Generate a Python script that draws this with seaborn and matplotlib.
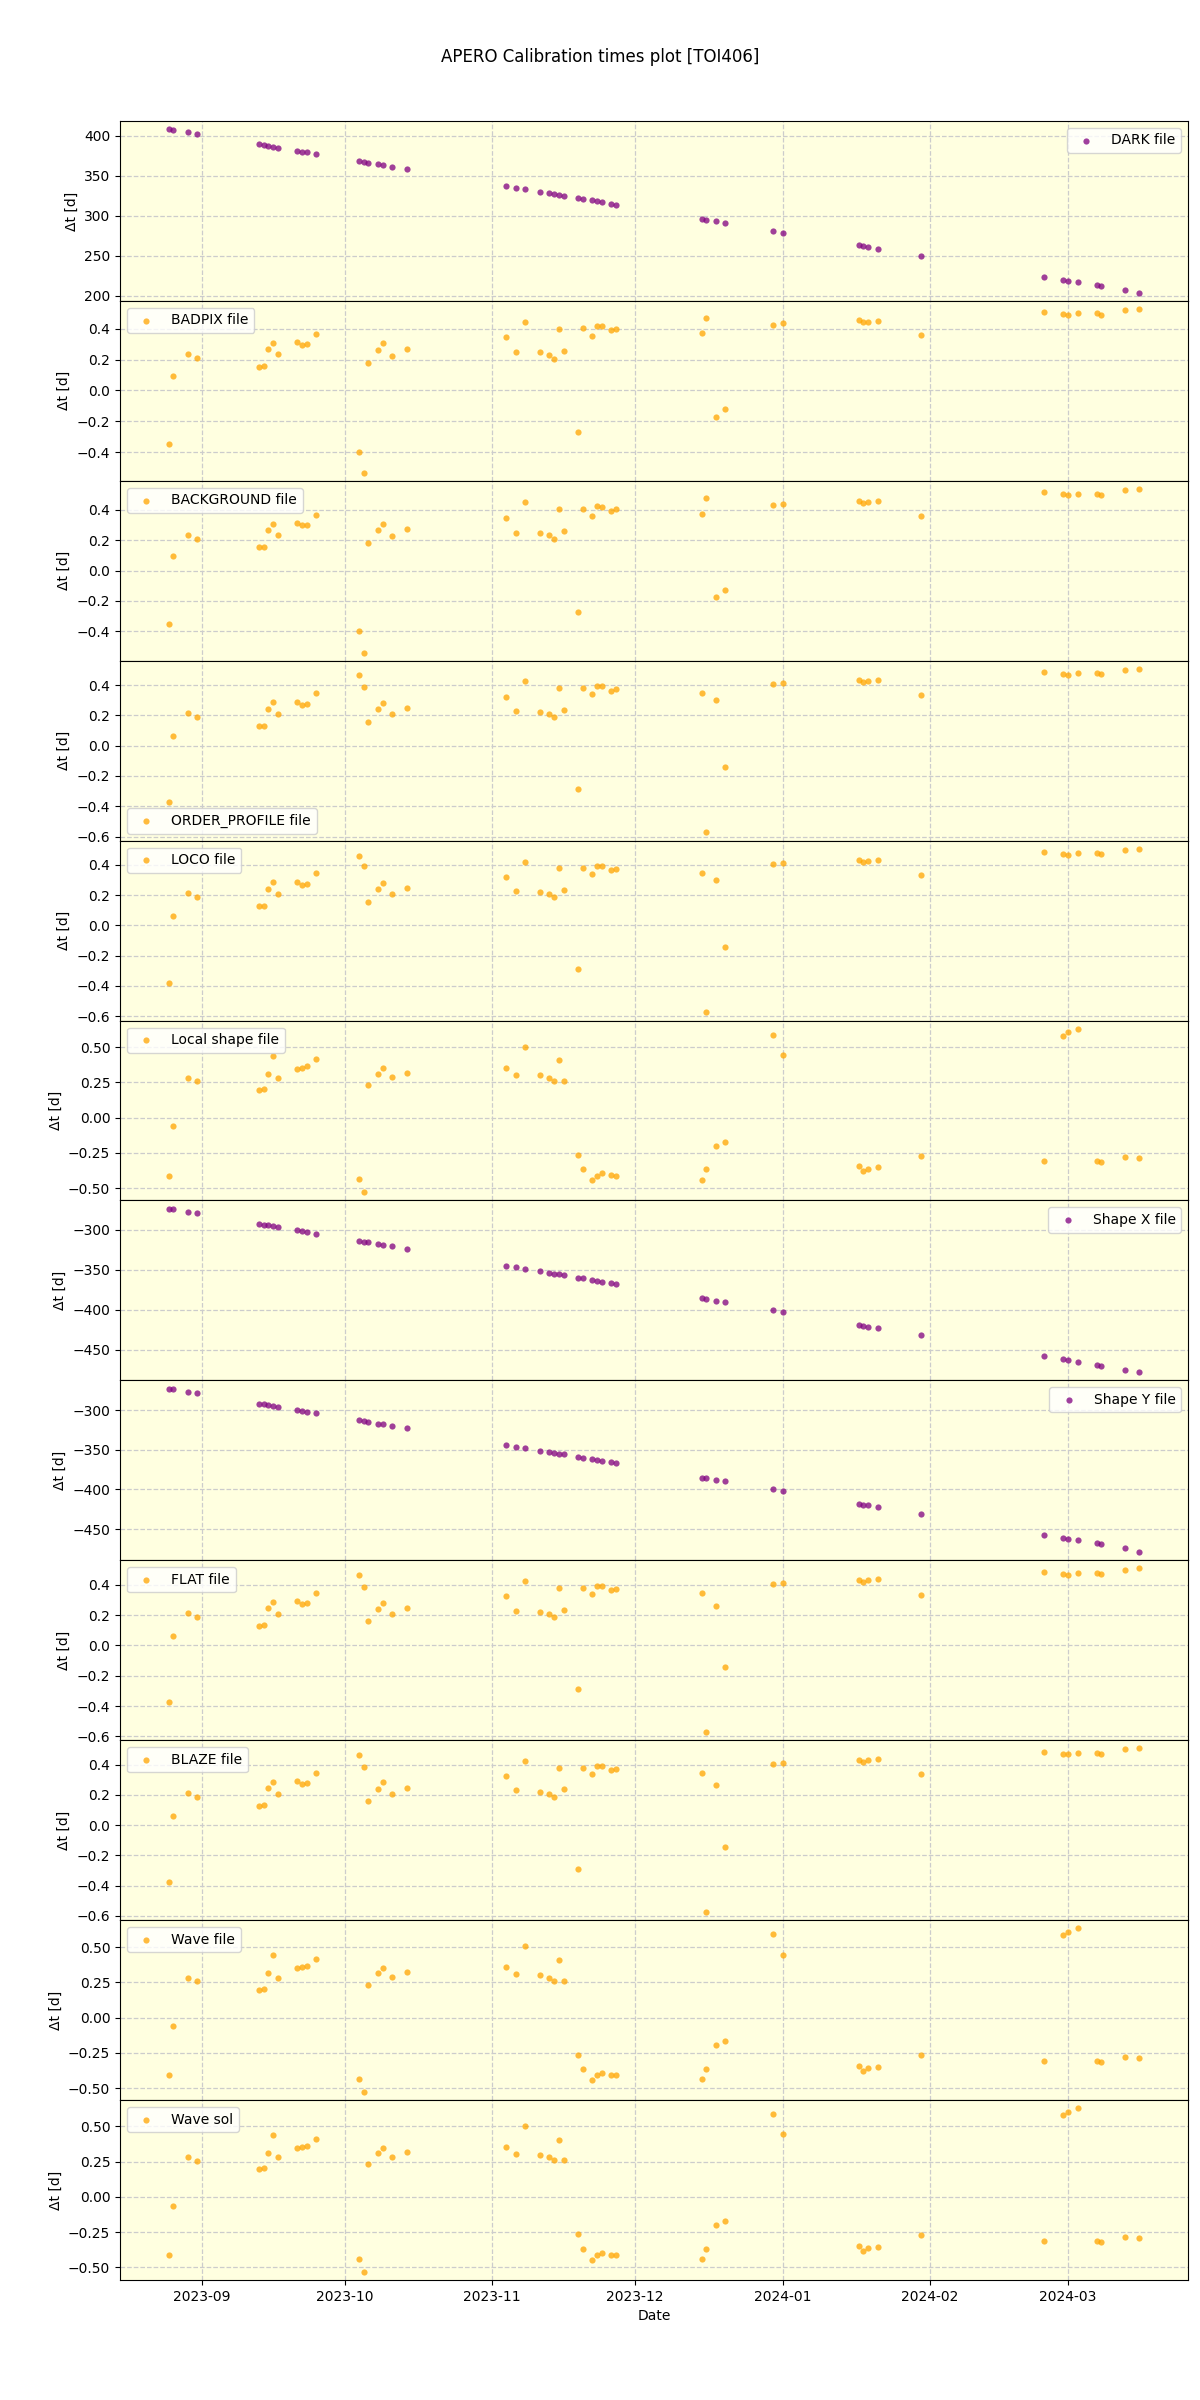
import matplotlib
matplotlib.use('Agg')
import matplotlib.pyplot as plt
import numpy as np
import pandas as pd
import seaborn as sns

# --- observation nights ---
nights = [
    '2023-08-25', '2023-08-26', '2023-08-29', '2023-08-31',
    '2023-09-13', '2023-09-14', '2023-09-15', '2023-09-16', '2023-09-17',
    '2023-09-21', '2023-09-22', '2023-09-23', '2023-09-25',
    '2023-10-04', '2023-10-05', '2023-10-06', '2023-10-08', '2023-10-09',
    '2023-10-11', '2023-10-14',
    '2023-11-04', '2023-11-06', '2023-11-08', '2023-11-11', '2023-11-13',
    '2023-11-14', '2023-11-15', '2023-11-16', '2023-11-19', '2023-11-20',
    '2023-11-22', '2023-11-23', '2023-11-24', '2023-11-26', '2023-11-27',
    '2023-12-15', '2023-12-16', '2023-12-18', '2023-12-20', '2023-12-30',
    '2024-01-01', '2024-01-17', '2024-01-18', '2024-01-19', '2024-01-21',
    '2024-01-30', '2024-02-25', '2024-02-29', '2024-03-01', '2024-03-03',
    '2024-03-07', '2024-03-08', '2024-03-13', '2024-03-16',
]

# --- delta-t per calibration type (days) ---
dark = [408, 407, 404, 402, 389, 388, 387, 386, 385, 381, 380, 379, 377,
        368, 367, 366, 364, 363, 361, 358,
        337, 335, 333, 330, 328, 327, 326, 325, 322, 321, 319, 318, 317, 315, 314,
        296, 295, 293, 291, 281, 279, 263, 262, 261, 259, 250,
        224, 220, 219, 217, 213, 212, 207, 204]

badpix = [-0.345, 0.096, 0.234, 0.208, 0.153, 0.157, 0.267, 0.308, 0.234,
          0.313, 0.297, 0.300, 0.363, -0.396, -0.533, 0.179, 0.262, 0.306,
          0.225, 0.269, 0.346, 0.247, 0.443, 0.247, 0.230, 0.205, 0.400,
          0.258, -0.267, 0.404, 0.356, 0.420, 0.418, 0.389, 0.400, 0.372,
          0.470, -0.170, -0.123, 0.426, 0.437, 0.457, 0.441, 0.447, 0.453,
          0.360, 0.510, 0.498, 0.490, 0.500, 0.500, 0.492, 0.522, 0.528]

background = [-0.350, 0.098, 0.232, 0.210, 0.155, 0.158, 0.270, 0.310, 0.236,
              0.315, 0.298, 0.302, 0.365, -0.400, -0.540, 0.180, 0.265, 0.308,
              0.228, 0.272, 0.350, 0.250, 0.450, 0.250, 0.232, 0.208, 0.405,
              0.260, -0.270, 0.408, 0.360, 0.425, 0.420, 0.392, 0.405, 0.375,
              0.480, -0.172, -0.125, 0.430, 0.440, 0.462, 0.445, 0.450, 0.458,
              0.362, 0.520, 0.505, 0.498, 0.508, 0.508, 0.500, 0.530, 0.538]

order_profile = [-0.375, 0.062, 0.213, 0.187, 0.129, 0.133, 0.244, 0.287, 0.209,
                 0.291, 0.271, 0.276, 0.347, 0.464, 0.387, 0.158, 0.240, 0.282,
                 0.207, 0.247, 0.324, 0.229, 0.424, 0.222, 0.207, 0.187, 0.380,
                 0.236, -0.289, 0.380, 0.338, 0.393, 0.391, 0.364, 0.373, 0.347,
                 -0.573, 0.300, -0.142, 0.407, 0.413, 0.433, 0.418, 0.429, 0.436,
                 0.335, 0.485, 0.473, 0.467, 0.480, 0.480, 0.473, 0.500, 0.507]

loco = [-0.378, 0.060, 0.212, 0.186, 0.128, 0.131, 0.243, 0.286, 0.208,
        0.290, 0.270, 0.275, 0.346, 0.460, 0.390, 0.156, 0.238, 0.280,
        0.206, 0.246, 0.323, 0.228, 0.422, 0.221, 0.206, 0.186, 0.378,
        0.235, -0.291, 0.379, 0.337, 0.392, 0.390, 0.363, 0.372, 0.346,
        -0.575, 0.302, -0.144, 0.406, 0.412, 0.432, 0.417, 0.428, 0.435,
        0.334, 0.484, 0.472, 0.466, 0.479, 0.479, 0.472, 0.499, 0.506]

flat = [-0.376, 0.064, 0.214, 0.188, 0.130, 0.134, 0.245, 0.288, 0.210,
        0.292, 0.272, 0.277, 0.348, 0.462, 0.388, 0.159, 0.241, 0.283,
        0.208, 0.248, 0.325, 0.230, 0.425, 0.223, 0.208, 0.188, 0.381,
        0.237, -0.288, 0.381, 0.339, 0.394, 0.392, 0.365, 0.374, 0.348,
        -0.572, 0.262, -0.143, 0.408, 0.414, 0.434, 0.419, 0.430, 0.437,
        0.336, 0.486, 0.474, 0.468, 0.481, 0.481, 0.474, 0.501, 0.508]

blaze = [-0.377, 0.063, 0.213, 0.187, 0.129, 0.133, 0.244, 0.287, 0.209,
         0.291, 0.271, 0.276, 0.347, 0.461, 0.387, 0.158, 0.240, 0.282,
         0.207, 0.247, 0.324, 0.229, 0.424, 0.222, 0.207, 0.187, 0.380,
         0.236, -0.290, 0.380, 0.338, 0.393, 0.391, 0.364, 0.373, 0.347,
         -0.574, 0.264, -0.143, 0.407, 0.413, 0.433, 0.418, 0.429, 0.436,
         0.335, 0.485, 0.473, 0.467, 0.480, 0.480, 0.473, 0.500, 0.507]

local_shape = [-0.410, -0.060, 0.283, 0.257, 0.198, 0.205, 0.312, 0.440, 0.283,
               0.348, 0.355, 0.364, 0.414, -0.436, -0.529, 0.233, 0.312, 0.350,
               0.286, 0.319, 0.355, 0.305, 0.505, 0.300, 0.283, 0.262, 0.407,
               0.262, -0.264, -0.367, -0.445, -0.412, -0.393, -0.407, -0.410,
               -0.440, -0.367, -0.198, -0.169, 0.588, 0.445, -0.343, -0.381,
               -0.362, -0.350, -0.270, -0.310, 0.581, 0.605, 0.631, -0.307,
               -0.317, -0.281, -0.288]

wave_file = [-0.408, -0.058, 0.284, 0.258, 0.199, 0.206, 0.313, 0.442, 0.284,
             0.349, 0.356, 0.365, 0.415, -0.434, -0.527, 0.234, 0.313, 0.351,
             0.287, 0.320, 0.356, 0.306, 0.506, 0.301, 0.284, 0.263, 0.408,
             0.263, -0.262, -0.365, -0.443, -0.410, -0.391, -0.405, -0.408,
             -0.438, -0.365, -0.196, -0.167, 0.590, 0.447, -0.341, -0.379,
             -0.360, -0.348, -0.268, -0.308, 0.583, 0.607, 0.633, -0.305,
             -0.315, -0.279, -0.286]

wave_sol = [-0.412, -0.062, 0.282, 0.256, 0.197, 0.204, 0.311, 0.439, 0.282,
            0.347, 0.354, 0.363, 0.413, -0.438, -0.531, 0.232, 0.311, 0.349,
            0.285, 0.318, 0.354, 0.304, 0.504, 0.299, 0.282, 0.261, 0.406,
            0.261, -0.266, -0.369, -0.447, -0.414, -0.395, -0.409, -0.412,
            -0.442, -0.369, -0.200, -0.171, 0.586, 0.443, -0.345, -0.383,
            -0.364, -0.352, -0.272, -0.312, 0.579, 0.603, 0.629, -0.309,
            -0.319, -0.283, -0.290]

shape_x = [-274, -275, -278, -280, -293, -294, -295, -296, -297, -301, -302,
           -303, -305, -314, -315, -316, -318, -319, -321, -324,
           -345, -347, -349, -352, -354, -355, -356, -357, -360, -361, -363,
           -364, -365, -367, -368, -386, -387, -389, -391, -401, -403,
           -419, -420, -421, -423, -432, -458, -462, -463, -465, -469, -470,
           -475, -478]

shape_y = [-273, -274, -277, -279, -292, -293, -294, -295, -296, -300, -301,
           -302, -304, -313, -314, -315, -317, -318, -320, -323,
           -344, -346, -348, -351, -353, -354, -355, -356, -359, -360, -362,
           -363, -364, -366, -367, -385, -386, -388, -390, -400, -402,
           -418, -419, -420, -422, -431, -457, -461, -462, -464, -468, -469,
           -474, -479]

panels = [
    ('DARK file', dark, 'purple', 'upper right'),
    ('BADPIX file', badpix, 'orange', 'upper left'),
    ('BACKGROUND file', background, 'orange', 'upper left'),
    ('ORDER_PROFILE file', order_profile, 'orange', 'lower left'),
    ('LOCO file', loco, 'orange', 'upper left'),
    ('Local shape file', local_shape, 'orange', 'upper left'),
    ('Shape X file', shape_x, 'purple', 'upper right'),
    ('Shape Y file', shape_y, 'purple', 'upper right'),
    ('FLAT file', flat, 'orange', 'upper left'),
    ('BLAZE file', blaze, 'orange', 'upper left'),
    ('Wave file', wave_file, 'orange', 'upper left'),
    ('Wave sol', wave_sol, 'orange', 'upper left'),
]

dates = pd.to_datetime(nights)

fig, axes = plt.subplots(len(panels), 1, figsize=(12, 24), sharex=True)
fig.subplots_adjust(left=0.1, right=0.99, top=0.9496, bottom=0.05, hspace=0)

for ax, (label, vals, color, loc) in zip(axes, panels):
    ax.set_facecolor('lightyellow')
    ax.set_axisbelow(True)
    ax.grid(True, linestyle='--', color='0.8', linewidth=0.9)
    sns.scatterplot(x=dates, y=vals, ax=ax, color=color, alpha=0.75, s=20,
                    linewidth=0, label=label)
    ax.legend(loc=loc)
    ax.set_ylabel('Δt [d]')

axes[-1].set_xlabel('Date')
fig.suptitle('APERO Calibration times plot [TOI406]')
plt.savefig('out.png', dpi=100)
